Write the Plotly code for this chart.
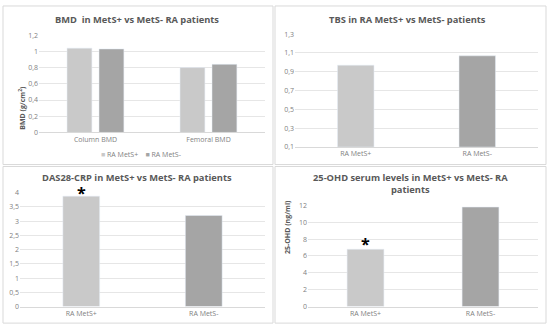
import plotly.graph_objects as go

W, H = 550, 331

# Data
bmd_categories = ["Column BMD", "Femoral BMD"]
bmd_mets_pos = [1.04, 0.80]
bmd_mets_neg = [1.03, 0.84]

groups = ["RA MetS+", "RA MetS-"]
tbs_values = [0.97, 1.07]
das_values = [3.88, 3.20]
ohd_values = [6.8, 11.8]

c_light = "#c9c9c9"
c_dark = "#a5a5a5"
txt = "#595959"
tick = "#7f7f7f"
grid = "#e6e6e6"
FONT = "Open Sans"

def px(x):
    return x / W

def py(y):
    return 1 - y / H

fig = go.Figure()

# Panel 1
fig.add_trace(go.Bar(x=bmd_categories, y=bmd_mets_pos, name="RA MetS+", marker_color=c_light,
                     width=0.22, offset=-0.252, xaxis="x", yaxis="y"))
fig.add_trace(go.Bar(x=bmd_categories, y=bmd_mets_neg, name="RA MetS-", marker_color=c_dark,
                     width=0.22, offset=0.031, xaxis="x", yaxis="y"))
# Panel 2
fig.add_trace(go.Bar(x=groups, y=[v - 0.1 for v in tbs_values], base=0.1, marker_color=[c_light, c_dark],
                     width=0.30, showlegend=False, xaxis="x2", yaxis="y2"))
# Panel 3
fig.add_trace(go.Bar(x=groups, y=das_values, marker_color=[c_light, c_dark],
                     width=0.30, showlegend=False, xaxis="x3", yaxis="y3"))
# Panel 4
fig.add_trace(go.Bar(x=groups, y=ohd_values, marker_color=[c_light, c_dark],
                     width=0.32, showlegend=False, xaxis="x4", yaxis="y4"))

axfont = dict(family=FONT, size=7, color=tick)

def xax(l, r):
    return dict(domain=[px(l), px(r)], showgrid=False, showline=True, linecolor="#d9d9d9",
                linewidth=1, ticks="", tickfont=axfont, fixedrange=True)

def yax(t, b, rng, dtick, anchor):
    return dict(domain=[py(b), py(t)], range=rng, dtick=dtick, showgrid=True, gridcolor=grid,
                gridwidth=1, zeroline=False, showline=False, ticks="", tickfont=axfont,
                anchor=anchor, fixedrange=True)

def ticks(start, stop, step, dec):
    vals, texts = [], []
    v = start
    while v <= stop + 1e-9:
        vals.append(round(v, 4))
        s = f"{v:.{dec}f}".rstrip("0").rstrip(".") if dec else f"{v:.0f}"
        texts.append(s.replace(".", ","))
        v += step
    return vals, texts

fig.update_layout(
    width=W, height=H, margin=dict(l=0, r=0, t=0, b=0),
    paper_bgcolor="white", plot_bgcolor="white", barmode="overlay",
    font=dict(family=FONT, color=txt),
    xaxis=dict(**xax(39, 265), anchor="y"),
    yaxis=yax(31, 131, [0, 1.2], 0.2, "x"),
    xaxis2=dict(**xax(295, 538), anchor="y2"),
    yaxis2=yax(30, 146, [0.1, 1.3], 0.2, "x2"),
    xaxis3=dict(**xax(20, 265), anchor="y3"),
    yaxis3=yax(193, 310, [0, 4], 0.5, "x3"),
    xaxis4=dict(**xax(308, 538), anchor="y4"),
    yaxis4=yax(206, 310, [0, 12], 2, "x4"),
    showlegend=False,
)

v, t = ticks(0, 1.2, 0.2, 1)
fig.update_layout(yaxis=dict(tickvals=v, ticktext=t))
v, t = ticks(0.1, 1.3, 0.2, 1)
fig.update_layout(yaxis2=dict(tickvals=v, ticktext=t))
v, t = ticks(0, 4, 0.5, 1)
fig.update_layout(yaxis3=dict(tickvals=v, ticktext=t))
v, t = ticks(0, 12, 2, 0)
fig.update_layout(yaxis4=dict(tickvals=v, ticktext=t))

# Panel borders
for (x0, y0, x1, y1) in [(3, 1, 273, 164), (275, 1, 546, 164), (3, 166, 273, 327), (275, 166, 546, 327)]:
    fig.add_shape(type="rect", xref="paper", yref="paper", x0=px(x0), x1=px(x1), y0=py(y1), y1=py(y0),
                  line=dict(color="#d9d9d9", width=1), fillcolor="rgba(0,0,0,0)", layer="below")

tfont = dict(family=FONT, size=9.3, color=txt)
ann = [
    dict(text="<b>BMD  in MetS+ vs MetS- RA patients</b>", x=px(137), y=py(15)),
    dict(text="<b>TBS in RA MetS+ vs MetS- patients</b>", x=px(407), y=py(15)),
    dict(text="<b>DAS28-CRP in MetS+ vs MetS- RA patients</b>", x=px(137), y=py(177)),
    dict(text="<b>25-OHD serum levels in MetS+ vs MetS- RA<br>patients</b>", x=px(410), y=py(184)),
]
for a in ann:
    fig.add_annotation(xref="paper", yref="paper", showarrow=False, font=tfont,
                       xanchor="center", yanchor="middle", **a)

# Custom legend
fig.add_annotation(
    text=(f"<span style='color:{c_light}'>■</span> RA MetS+    "
          f"<span style='color:{c_dark}'>■</span> RA MetS-"),
    xref="paper", yref="paper", x=px(141), y=py(154), showarrow=False,
    xanchor="center", yanchor="middle", font=dict(family=FONT, size=7, color=tick))

fig.add_annotation(text="<b>BMD (g/cm<sup>2</sup>)</b>", xref="paper", yref="paper", x=px(15), y=py(81),
                   textangle=-90, showarrow=False, font=dict(family=FONT, size=7, color=txt))
fig.add_annotation(text="<b>25-OHD (ng/ml)</b>", xref="paper", yref="paper", x=px(288), y=py(258),
                   textangle=-90, showarrow=False, font=dict(family=FONT, size=7, color=txt))

# Significance asterisks
fig.add_annotation(text="<b>*</b>", x=groups[0], y=das_values[0], xref="x3", yref="y3", yshift=-10,
                   yanchor="bottom", showarrow=False, font=dict(family=FONT, size=16, color="black"))
fig.add_annotation(text="<b>*</b>", x=groups[0], y=ohd_values[0], xref="x4", yref="y4", yshift=-8,
                   yanchor="bottom", showarrow=False, font=dict(family=FONT, size=16, color="black"))

fig.write_html("out.html", config={"displayModeBar": False},
               post_script="document.body.style.margin='0';")
